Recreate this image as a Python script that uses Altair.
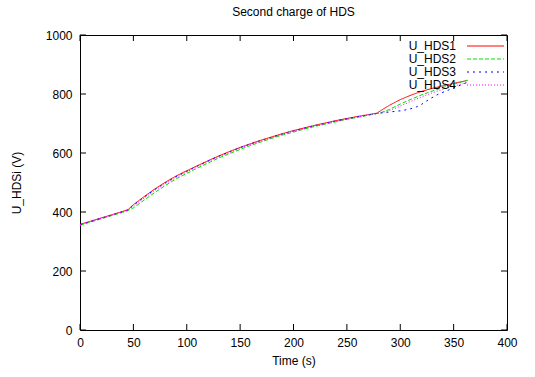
import altair as alt
import pandas as pd

# ---- data ----
names = ["U_HDS1", "U_HDS2", "U_HDS3", "U_HDS4"]
colors = ["#ff0000", "#00e000", "#0000ff", "#ff00ff"]
dashes = [[1, 0], [4, 2], [2, 4], [1, 2]]

t_pre = [0, 10, 20, 30, 40, 45, 50, 60, 70, 80, 90, 100, 110, 120, 130, 140,
         150, 160, 170, 180, 190, 200, 210, 220, 230, 240, 250, 260, 270, 278]

hds1_pre = [358, 369, 380, 391, 402, 408, 425, 452, 478, 501, 522, 540, 557, 574, 590, 605,
            619, 632, 644, 655, 666, 676, 685, 694, 702, 710, 717, 724, 730, 735]
hds1_t_post = [285, 290, 300, 310, 320, 330, 340, 350, 363]
hds1_post = [751, 762, 781, 796, 809, 819, 828, 836, 846]

hds2_pre = [355, 366, 377, 388, 399, 405, 414, 440, 466, 490, 512, 531, 549, 566, 583, 598,
            612, 626, 638, 650, 661, 671, 681, 690, 698, 706, 714, 721, 728, 734]
hds2_t_post = [282, 285, 290, 300, 310, 320, 330, 340, 350, 363]
hds2_post = [737, 741, 748, 766, 782, 797, 810, 822, 833, 847]

hds3_pre = [357, 368, 379, 390, 401, 407, 423, 450, 476, 499, 520, 538, 556, 573, 589, 604,
            618, 631, 643, 654, 665, 675, 684, 693, 701, 709, 716, 723, 729, 734]
hds3_t_post = [285, 290, 300, 308, 315, 320, 327, 336, 349, 363]
hds3_post = [737, 739, 743, 748, 756, 765, 782, 800, 819, 840]

hds4_pre = [357, 368, 379, 390, 401, 407, 420, 447, 473, 496, 517, 536, 554, 571, 587, 602,
            616, 629, 641, 653, 664, 674, 683, 692, 700, 708, 715, 722, 729, 734]
hds4_t_post = [282, 285, 290, 300, 310, 320, 330, 340, 350, 363]
hds4_post = [736, 739, 744, 759, 775, 790, 804, 816, 827, 839]

x_ticks = [0, 50, 100, 150, 200, 250, 300, 350, 400]
y_ticks = [0, 200, 400, 600, 800, 1000]

# ---- build tables ----
rows = []
for name, pre, tp, post in [
    (names[0], hds1_pre, hds1_t_post, hds1_post),
    (names[1], hds2_pre, hds2_t_post, hds2_post),
    (names[2], hds3_pre, hds3_t_post, hds3_post),
    (names[3], hds4_pre, hds4_t_post, hds4_post),
]:
    for t, v in zip(t_pre + tp, pre + post):
        rows.append({"series": name, "t": t, "v": v})
df = pd.DataFrame(rows)
leg = pd.DataFrame({"series": names})
xt = pd.DataFrame({"t": x_ticks})
yt = pd.DataFrame({"v": y_ticks})

W, H = 427, 295
FONT = "Liberation Sans"
FS = 12

xscale = alt.Scale(domain=[0, 400], nice=False, zero=False)
yscale = alt.Scale(domain=[0, 1000], nice=False, zero=False)
color = alt.Color("series:N", scale=alt.Scale(domain=names, range=colors), legend=None)
dash = alt.StrokeDash("series:N", scale=alt.Scale(domain=names, range=dashes), legend=None)

lines = alt.Chart(df).mark_line(strokeWidth=1, clip=True).encode(
    x=alt.X("t:Q", scale=xscale, title="Time (s)",
            axis=alt.Axis(values=x_ticks, format="d", labelPadding=7, titlePadding=7,
                          labelFlush=False)),
    y=alt.Y("v:Q", scale=yscale, title="U_HDSi (V)",
            axis=alt.Axis(values=y_ticks, format="d", labelPadding=8, titlePadding=22,
                          labelFlush=False)),
    color=color,
    strokeDash=dash,
    detail="series:N",
    order="t:Q",
)

tick_b = alt.Chart(xt).mark_rule(color="black", strokeWidth=1).encode(
    x=alt.X("t:Q", scale=xscale, axis=None), y=alt.value(H), y2=alt.value(H - 6))
tick_t = alt.Chart(xt).mark_rule(color="black", strokeWidth=1).encode(
    x=alt.X("t:Q", scale=xscale, axis=None), y=alt.value(0), y2=alt.value(6))
tick_l = alt.Chart(yt).mark_rule(color="black", strokeWidth=1).encode(
    y=alt.Y("v:Q", scale=yscale, axis=None), x=alt.value(0), x2=alt.value(6))
tick_r = alt.Chart(yt).mark_rule(color="black", strokeWidth=1).encode(
    y=alt.Y("v:Q", scale=yscale, axis=None), x=alt.value(W), x2=alt.value(W - 6))

legy = alt.Y("series:N",
             scale=alt.Scale(type="point", domain=names, range=[11, 50], padding=0),
             axis=None)
leg_text = alt.Chart(leg).mark_text(align="right", baseline="middle", font=FONT,
                                    fontSize=FS, color="black").encode(
    y=legy, x=alt.value(376), text="series:N")
leg_line = alt.Chart(leg).mark_rule(strokeWidth=1).encode(
    y=legy, x=alt.value(387), x2=alt.value(424), color=color, strokeDash=dash)

chart = alt.layer(lines, tick_b, tick_t, tick_l, tick_r, leg_line, leg_text).resolve_scale(
    x="independent", y="independent"
).properties(
    width=W, height=H,
    title=alt.TitleParams("Second charge of HDS", font=FONT, fontSize=FS,
                          fontWeight="normal", color="black", anchor="middle", offset=10),
    autosize=alt.AutoSizeParams(type="none"),
    padding={"left": 80, "top": 35, "right": 28, "bottom": 47},
).configure_view(
    stroke="black", strokeWidth=1
).configure_axis(
    domain=False, ticks=False, tickSize=0, grid=False,
    labelFont=FONT, labelFontSize=FS, labelColor="black",
    titleFont=FONT, titleFontSize=FS, titleFontWeight="normal", titleColor="black",
)

chart.save("out.html", embed_options={"renderer": "svg", "actions": False})
